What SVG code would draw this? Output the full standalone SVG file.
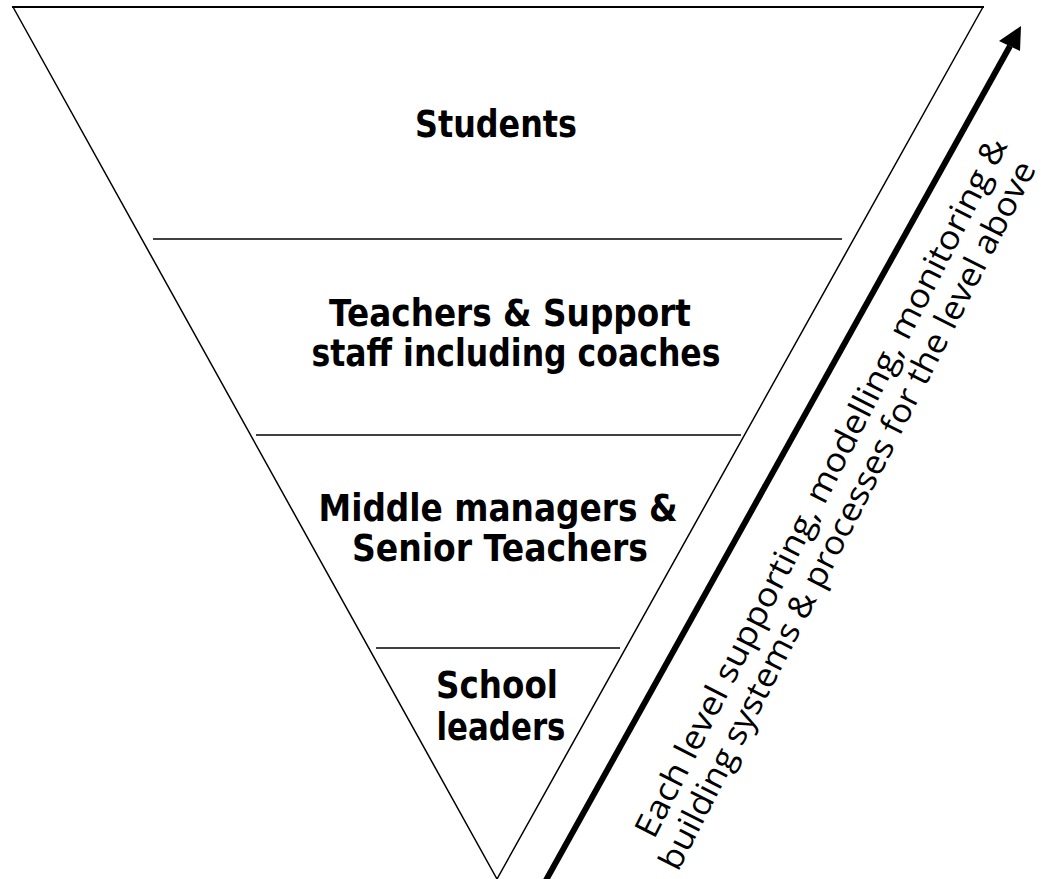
<svg xmlns="http://www.w3.org/2000/svg" width="1041" height="879" viewBox="0 0 1041 879">
<style>
.lbl{font-family:"DejaVu Sans","Verdana",sans-serif;font-weight:bold;font-size:37px;fill:#000;text-anchor:middle}
.side{font-family:"Open Sans","Noto Sans",sans-serif;font-size:33px;fill:#000}
.ln{stroke:#000;stroke-width:1.5;fill:none}
</style>
<rect width="1041" height="879" fill="#fff"/>
<g id="pyramid">
<path class="ln" d="M13,7 L497,879 L983,7"/>
<line x1="12" y1="7" x2="984" y2="7" stroke="#000" stroke-width="2.2"/>
<line class="ln" x1="153" y1="239" x2="842" y2="239"/>
<line class="ln" x1="256" y1="435" x2="741" y2="435"/>
<line class="ln" x1="376" y1="648" x2="620" y2="648"/>
</g>
<g id="students"><text class="lbl" x="496" y="137" textLength="162" lengthAdjust="spacingAndGlyphs">Students</text></g>
<g id="teachers">
<text class="lbl" x="510" y="326" textLength="362" lengthAdjust="spacingAndGlyphs">Teachers &amp; Support</text>
<text class="lbl" x="516" y="366" textLength="409" lengthAdjust="spacingAndGlyphs">staff including coaches</text>
</g>
<g id="middle">
<text class="lbl" x="498" y="521" textLength="359" lengthAdjust="spacingAndGlyphs">Middle managers &amp;</text>
<text class="lbl" x="500" y="561" textLength="296" lengthAdjust="spacingAndGlyphs">Senior Teachers</text>
</g>
<g id="leaders">
<text class="lbl" x="497" y="698" textLength="122" lengthAdjust="spacingAndGlyphs">School</text>
<text class="lbl" x="501" y="740" textLength="129" lengthAdjust="spacingAndGlyphs">leaders</text>
</g>
<g id="connectors">
<line x1="545" y1="882" x2="1010" y2="46" stroke="#000" stroke-width="6"/>
<polygon points="1021,26 999,41 1020,51" fill="#000"/>
</g>
<g id="arrow-label" transform="translate(654,840) rotate(-63)">
<text class="side" x="0" y="0" textLength="780" lengthAdjust="spacingAndGlyphs">Each level supporting, modelling, monitoring &amp;</text>
<text class="side" x="-18" y="36" textLength="790" lengthAdjust="spacingAndGlyphs">building systems &amp; processes for the level above</text>
</g>
</svg>
